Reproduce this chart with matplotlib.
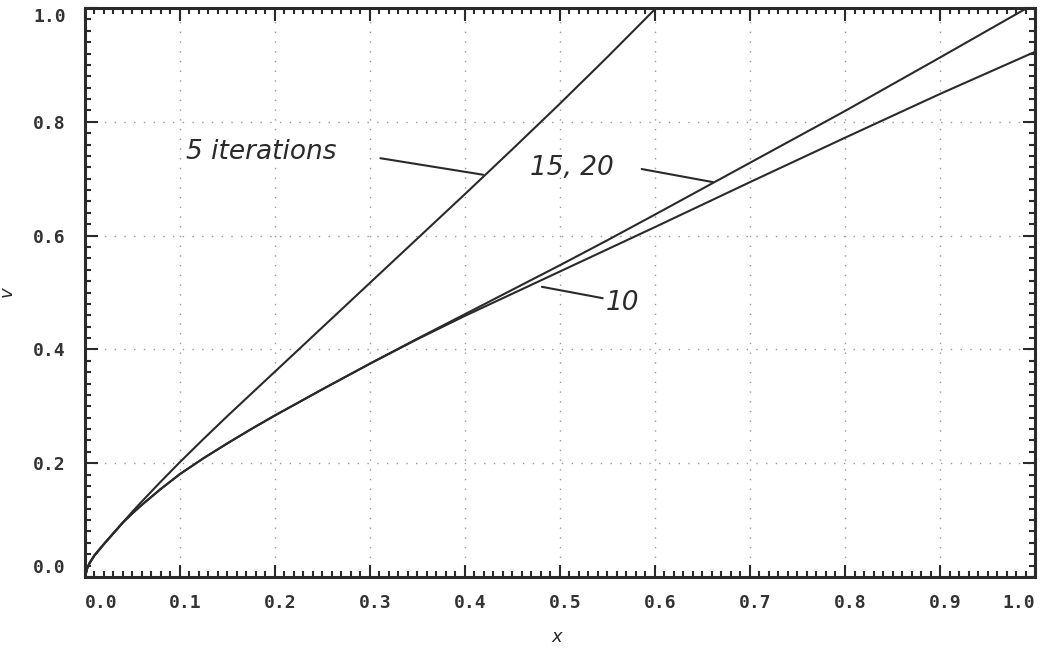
#!/usr/bin/env python3
"""
Plot the iterated solution v(x) after 5, 10 and 15/20 iterations.
"""

import matplotlib
matplotlib.use("Agg")
import matplotlib.pyplot as plt
import matplotlib.transforms as mtransforms
from matplotlib.ticker import MultipleLocator

# Iteration 5
x_iter5 = [0.0, 0.0025, 0.005, 0.01, 0.02, 0.03, 0.04, 0.05, 0.06, 0.08, 0.1,
           0.125, 0.15, 0.175, 0.2, 0.25, 0.3, 0.35, 0.4, 0.45, 0.5, 0.55, 0.6]
v_iter5 = [0.0, 0.016, 0.025, 0.038, 0.058, 0.077, 0.096, 0.115, 0.133, 0.168, 0.202,
           0.243, 0.283, 0.322, 0.361, 0.439, 0.517, 0.595, 0.673, 0.752, 0.832, 0.914, 0.998]

# Iteration 10
x_iter10 = [0.0, 0.0025, 0.005, 0.01, 0.02, 0.03, 0.04, 0.05, 0.06, 0.08, 0.1,
            0.125, 0.15, 0.175, 0.2, 0.25, 0.3, 0.35, 0.4, 0.45, 0.5, 0.55, 0.6,
            0.7, 0.8, 0.9, 1.0]
v_iter10 = [0.0, 0.016, 0.025, 0.038, 0.058, 0.077, 0.096, 0.112, 0.127, 0.155, 0.181,
            0.209, 0.235, 0.26, 0.284, 0.33, 0.375, 0.418, 0.459, 0.498, 0.537, 0.576, 0.615,
            0.694, 0.772, 0.849, 0.923]

# Iterations 15 and 20 (converged, identical at plot resolution)
x_iter15 = [0.0, 0.0025, 0.005, 0.01, 0.02, 0.03, 0.04, 0.05, 0.06, 0.08, 0.1,
            0.125, 0.15, 0.175, 0.2, 0.25, 0.3, 0.35, 0.4, 0.45, 0.5, 0.55, 0.6,
            0.7, 0.8, 0.9, 1.0]
v_iter15 = [0.0, 0.016, 0.025, 0.038, 0.058, 0.077, 0.096, 0.112, 0.127, 0.155, 0.181,
            0.209, 0.235, 0.26, 0.284, 0.33, 0.375, 0.419, 0.462, 0.505, 0.548, 0.592, 0.637,
            0.728, 0.819, 0.913, 1.008]

tick_values = [0.0, 0.1, 0.2, 0.3, 0.4, 0.5, 0.6, 0.7, 0.8, 0.9, 1.0]
y_tick_values = [0.0, 0.2, 0.4, 0.6, 0.8, 1.0]

# (text, left/centre of text, leader start, leader end)
annotations = [
    ("5 iterations", (0.106, 0.747), (0.311, 0.736), (0.419, 0.707)),
    ("15, 20", (0.468, 0.719), (0.586, 0.717), (0.661, 0.694)),
    ("10", (0.548, 0.481), (0.545, 0.490), (0.481, 0.510)),
]

INK = "#2a2a2a"


def main():
    fig = plt.figure(figsize=(10.4, 6.56), dpi=100)
    ax = fig.add_axes([0.0817, 0.1204, 0.9135, 0.8674])

    for xs, vs in [(x_iter5, v_iter5), (x_iter10, v_iter10), (x_iter15, v_iter15)]:
        ax.plot(xs, vs, color=INK, lw=1.5, solid_capstyle="round", solid_joinstyle="round")

    ax.set_xlim(0, 1)
    ax.set_ylim(0, 1)

    ax.xaxis.set_major_locator(MultipleLocator(0.1))
    ax.xaxis.set_minor_locator(MultipleLocator(0.01))
    ax.yaxis.set_major_locator(MultipleLocator(0.2))
    ax.yaxis.set_minor_locator(MultipleLocator(0.02))

    ax.tick_params(which="both", direction="in", top=True, right=True,
                   color=INK, width=1.5)
    ax.tick_params(which="major", length=9)
    ax.tick_params(which="minor", length=4.5)
    ax.tick_params(axis="x", pad=12)
    ax.tick_params(axis="y", pad=14)

    for spine in ax.spines.values():
        spine.set_linewidth(2.2)
        spine.set_color(INK)

    ax.grid(True, which="major", color="#999999", lw=1.0, linestyle=(0, (1, 6)))

    tick_font = dict(family="DejaVu Sans Mono", weight="bold", size=13, color="#333333")
    ax.set_xticks(tick_values)
    ax.set_xticklabels([f"{t:.1f}" for t in tick_values], **tick_font)
    ax.set_yticks(y_tick_values)
    ax.set_yticklabels([f"{t:.1f}" for t in y_tick_values], **tick_font)

    # nudge the x labels slightly right, keep the end labels inside the frame
    shift = mtransforms.ScaledTranslation(5 / 100, 0, fig.dpi_scale_trans)
    xlabels = ax.get_xticklabels()
    for lab in xlabels[1:-1]:
        lab.set_transform(lab.get_transform() + shift)
    xlabels[0].set_ha("left")
    xlabels[-1].set_ha("right")
    ylabels = ax.get_yticklabels()
    ylabels[-1].set_va("top")
    ylabels[0].set_va("bottom")

    ax.set_xlabel("$x$", fontsize=13, color=INK)
    ax.set_ylabel("$v$", fontsize=13, color=INK)
    ax.xaxis.set_label_coords(0.497, -0.09)
    ax.yaxis.set_label_coords(-0.072, 0.5)

    for text, pos, start, end in annotations:
        ax.text(pos[0], pos[1], text, family="DejaVu Sans", style="oblique", fontsize=19,
                color=INK, ha="left", va="center")
        ax.plot([start[0], end[0]], [start[1], end[1]], color=INK, lw=1.5,
                solid_capstyle="round")

    fig.savefig("out.png", dpi=100)


if __name__ == "__main__":
    main()
